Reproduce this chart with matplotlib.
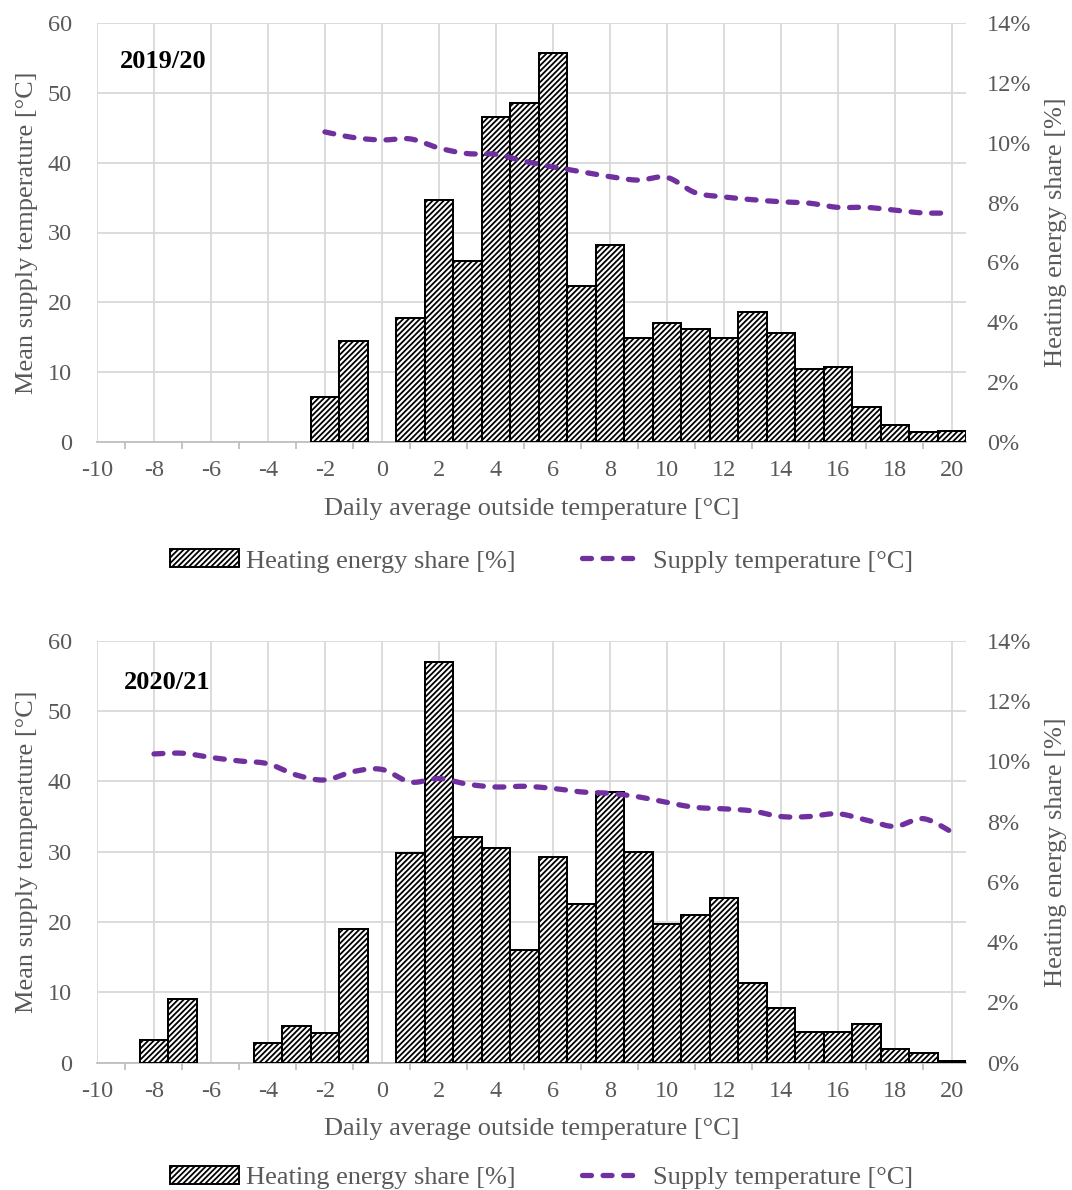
import numpy as np
import matplotlib
matplotlib.use('Agg')
import matplotlib.pyplot as plt
from matplotlib.lines import Line2D
from matplotlib.patches import Patch
from matplotlib.ticker import FuncFormatter
from matplotlib.legend_handler import HandlerLine2D

plt.rcParams['font.family'] = ['Liberation Serif', 'DejaVu Serif']
plt.rcParams['hatch.linewidth'] = 1.3
plt.rcParams['axes.unicode_minus'] = False

# ---------------- data ----------------
# 2019/20
share_x_1920 = [-2, -1, 1, 2, 3, 4, 5, 6, 7, 8, 9, 10, 11, 12, 13, 14, 15, 16, 17, 18, 19, 20]
share_1920 = [1.49, 3.39, 4.14, 8.09, 6.06, 10.85, 11.32, 13.0, 5.2, 6.59, 3.47, 3.99,
              3.78, 3.49, 4.34, 3.63, 2.43, 2.51, 1.17, 0.56, 0.32, 0.37]
supply_x_1920 = list(range(-2, 21))
supply_1920 = [44.4, 43.6, 43.25, 43.4, 42.1, 41.3, 41.2, 40.2, 39.4, 38.7, 38.0, 37.5,
               37.9, 35.7, 35.1, 34.7, 34.4, 34.2, 33.6, 33.6, 33.2, 32.8, 32.8]

# 2020/21
share_x_2021 = [-8, -7, -4, -3, -2, -1, 1, 2, 3, 4, 5, 6, 7, 8, 9, 10, 11, 12, 13, 14, 15,
                16, 17, 18, 19, 20]
share_2021 = [0.75, 2.12, 0.64, 1.22, 0.97, 4.42, 6.97, 13.29, 7.48, 7.13, 3.74, 6.81, 5.25,
              8.97, 6.98, 4.61, 4.91, 5.46, 2.65, 1.80, 1.03, 1.01, 1.27, 0.45, 0.33, 0.07]
supply_x_2021 = list(range(-8, 21))
supply_2021 = [43.9, 44.0, 43.4, 42.9, 42.5, 40.9, 40.2, 41.4, 41.7, 39.9, 40.4, 39.6, 39.2,
               39.3, 39.0, 38.5, 38.3, 37.8, 37.0, 36.3, 36.1, 35.8, 35.0, 35.0, 35.4, 34.5,
               33.6, 34.7, 32.8]

season_labels = ['2019/20', '2020/21']
x_ticks = list(range(-10, 21, 2))
left_ticks = list(range(0, 61, 10))
right_ticks = list(range(0, 15, 2))
xlabel = 'Daily average outside temperature [°C]'
ylabel_left = 'Mean supply temperature [°C]'
ylabel_right = 'Heating energy share [%]'
legend_labels = ['Heating energy share [%]', 'Supply temperature [°C]']

# ---------------- style ----------------
GRAY = '#595959'
GRID = '#d9d9d9'
PURPLE = '#7030A0'
FS = 19       # titles, legend
TFS = 17.5    # tick labels
LW_LINE = 3.8
DASH = (1.7, 2.2)
HATCH = '//////'
EDGE_LW = 1.4


def smooth(x, y, n=20):
    """Catmull-Rom curve through the points (Excel-like smoothed line)."""
    pts = np.column_stack([x, y]).astype(float)
    P = np.vstack([pts[0], pts, pts[-1]])
    out = []
    t = np.linspace(0, 1, n, endpoint=False)[:, None]
    for i in range(1, len(P) - 2):
        p0, p1, p2, p3 = P[i - 1], P[i], P[i + 1], P[i + 2]
        seg = 0.5 * ((2 * p1) + (-p0 + p2) * t + (2 * p0 - 5 * p1 + 4 * p2 - p3) * t ** 2
                     + (-p0 + 3 * p1 - 3 * p2 + p3) * t ** 3)
        out.append(seg)
    out.append(P[-2][None])
    c = np.vstack(out)
    return c[:, 0], c[:, 1]


class ShortLineHandler(HandlerLine2D):
    """Legend line a bit shorter than the handle box (room for round caps)."""
    def get_xdata(self, legend, xdescent, ydescent, width, height, fontsize):
        x0 = -xdescent + 0.06 * width
        x1 = -xdescent + 0.86 * width
        return np.array([x0, x1]), np.array([(x0 + x1) / 2])


W, H = 1072, 1190
fig = plt.figure(figsize=(W / 100, H / 100), dpi=100)

panels = [
    dict(top=23, bottom=442, sx=share_x_1920, sv=share_1920, lx=supply_x_1920, lv=supply_1920,
         label=season_labels[0], lab_xy=(0.0265, 0.907), leg_y=-0.284),
    dict(top=640.7, bottom=1062.7, sx=share_x_2021, sv=share_2021, lx=supply_x_2021, lv=supply_2021,
         label=season_labels[1], lab_xy=(0.031, 0.901), leg_y=-0.273),
]

left_px, right_px = 97, 966

for p in panels:
    rect = [left_px / W, 1 - p['bottom'] / H, (right_px - left_px) / W, (p['bottom'] - p['top']) / H]
    ax = fig.add_axes(rect)
    axb = ax.twinx()
    axl = ax.twinx()

    # base axis: grid, left ticks, x ticks
    ax.set_xlim(-10, 20.5)
    ax.set_ylim(0, 60)
    ax.set_xticks(x_ticks)
    ax.set_xticks(list(range(-9, 20, 2)), minor=True)
    ax.set_yticks(left_ticks)
    ax.grid(True, which='major', color=GRID, lw=1.3)
    ax.set_axisbelow(True)
    for s in ['top', 'left', 'right']:
        ax.spines[s].set_visible(False)
    ax.spines['bottom'].set_color('#bfbfbf')
    ax.spines['bottom'].set_linewidth(1.3)
    ax.tick_params(axis='x', which='major', length=0, pad=13, labelsize=TFS, labelcolor=GRAY)
    ax.tick_params(axis='x', which='minor', length=5, width=1.3, color='#bfbfbf')
    ax.tick_params(axis='y', length=0, pad=18, labelsize=TFS, labelcolor=GRAY)
    ax.set_xlabel(xlabel, fontsize=FS, color=GRAY, labelpad=12)
    ax.set_ylabel(ylabel_left, fontsize=FS, color=GRAY, labelpad=7)

    # bars on right axis
    axb.set_ylim(0, 14)
    axb.set_yticks(right_ticks)
    axb.yaxis.set_major_formatter(FuncFormatter(lambda v, pos: f'{v:.0f}%'))
    axb.tick_params(axis='y', length=0, pad=15, labelsize=TFS, labelcolor=GRAY)
    axb.set_ylabel(ylabel_right, fontsize=FS, color=GRAY, labelpad=10)
    for s in axb.spines.values():
        s.set_visible(False)
    axb.bar(p['sx'], p['sv'], width=1.0, facecolor='white', edgecolor='black',
            linewidth=EDGE_LW, hatch=HATCH, antialiased=False)

    # line on top
    axl.set_ylim(0, 60)
    axl.tick_params(axis='y', right=False, labelright=False)
    for s in axl.spines.values():
        s.set_visible(False)
    sx, sy = smooth(p['lx'], p['lv'])
    axl.plot(sx, sy, color=PURPLE, lw=LW_LINE, dashes=DASH, dash_capstyle='round')

    ax.text(p['lab_xy'][0], p['lab_xy'][1], p['label'], transform=ax.transAxes,
            fontsize=FS, fontweight='bold', color='black', va='center', ha='left')

    line_handle = Line2D([], [], color=PURPLE, lw=LW_LINE, dashes=DASH, dash_capstyle='round')
    handles = [Patch(facecolor='white', edgecolor='black', hatch=HATCH, linewidth=EDGE_LW,
                     antialiased=False),
               line_handle]
    ax.legend(handles, legend_labels, loc='center', bbox_to_anchor=(0.512, p['leg_y']),
              ncol=2, frameon=False, fontsize=FS, labelcolor=GRAY, handlelength=2.6,
              handleheight=0.65, handletextpad=0.27, columnspacing=2.35,
              handler_map={line_handle: ShortLineHandler()})

fig.savefig('out.png', dpi=100)
